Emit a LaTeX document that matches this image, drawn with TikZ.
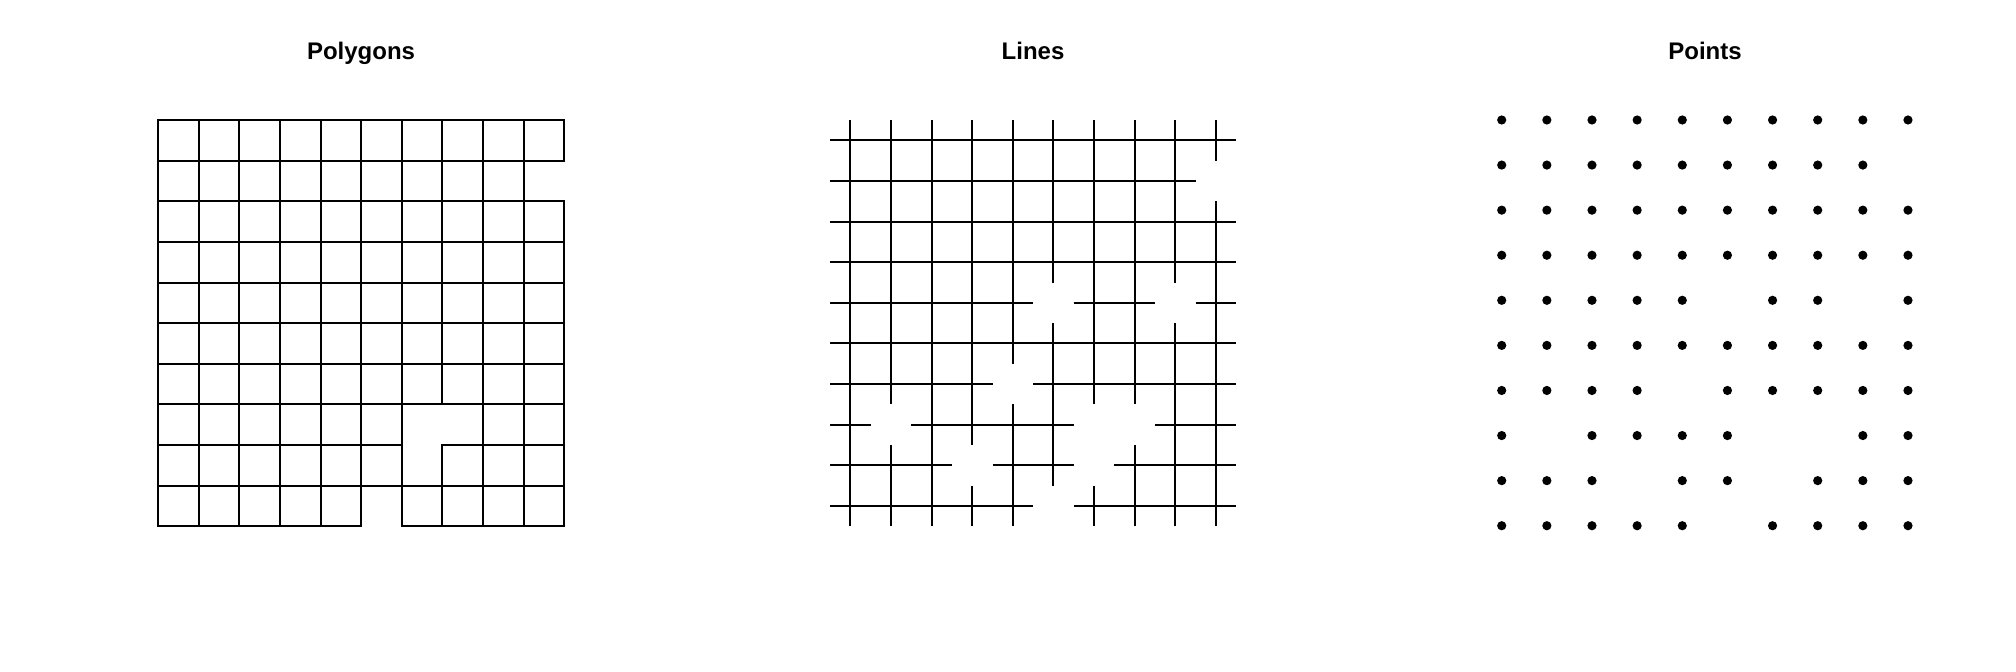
\documentclass[tikz,border=0pt]{standalone}
\usepackage{fontspec}
\setmainfont{Liberation Sans}
\def\missinglist{,1-9,4-5,4-8,6-4,7-1,7-6,7-7,8-3,8-6,9-5,}
\makeatletter
\newcommand\whenpresent[3]{%
  \edef\my@tmp{\noexpand\in@{,#1-#2,}{\missinglist}}\my@tmp
  \ifin@\else#3\fi}
\makeatother
\begin{document}
\begin{tikzpicture}[x=0.5pt,y=-0.5pt,
  gridline/.style={line width=1pt,black,line cap=rect},
  crossline/.style={line width=1pt,black,line cap=butt},
  dot/.style={fill=black},
  paneltitle/.style={anchor=base,inner sep=0pt,font=\fontsize{12}{14}\selectfont\bfseries}]
\useasboundingbox[fill=white] (0,0) rectangle (2016,672);
\def\c{40.63}
% ---------- titles
\node[paneltitle] (tpoly) at (361,60) {Polygons};
\node[paneltitle] (tline) at (1033,60) {Lines};
\node[paneltitle] (tpts) at (1705,60) {Points};
% ---------- Polygons panel (origin 158,120)
\begin{scope}[shift={(158,120)}]
  \foreach \j in {0,...,7,9}
    \draw[gridline] (0,{\c*\j}) -- ({10*\c},{\c*\j});
  \draw[gridline] (0,{8*\c}) -- ({6*\c},{8*\c});
  \draw[gridline] ({7*\c},{8*\c}) -- ({10*\c},{8*\c});
  \draw[gridline] (0,{10*\c}) -- ({5*\c},{10*\c});
  \draw[gridline] ({6*\c},{10*\c}) -- ({10*\c},{10*\c});
  \foreach \i in {0,...,6,8,9}
    \draw[gridline] ({\c*\i},0) -- ({\c*\i},{10*\c});
  \draw[gridline] ({7*\c},0) -- ({7*\c},{7*\c});
  \draw[gridline] ({7*\c},{8*\c}) -- ({7*\c},{10*\c});
  \draw[gridline] ({10*\c},0) -- ({10*\c},{\c});
  \draw[gridline] ({10*\c},{2*\c}) -- ({10*\c},{10*\c});
\end{scope}
% ---------- Lines panel (origin 830,120)
\begin{scope}[shift={(830,120)}]
  \foreach \j in {0,...,9}{
    \foreach \i in {0,...,9}{
      \whenpresent{\j}{\i}{%
        \draw[crossline] ({\c*\i},{\c*(\j+0.5)}) -- ({\c*(\i+1)},{\c*(\j+0.5)});
        \draw[crossline] ({\c*(\i+0.5)},{\c*\j}) -- ({\c*(\i+0.5)},{\c*(\j+1)});
      }%
    }
  }
\end{scope}
% ---------- Points panel (origin 1501.7,120)
\begin{scope}[shift={(1501.7,120)}]
  \foreach \j in {0,...,9}{
    \foreach \i in {0,...,9}{
      \whenpresent{\j}{\i}{%
        \fill[dot] ({45.14*\i},{45.08*\j}) circle[radius=2.3pt];
      }%
    }
  }
\end{scope}
\end{tikzpicture}
\end{document}
